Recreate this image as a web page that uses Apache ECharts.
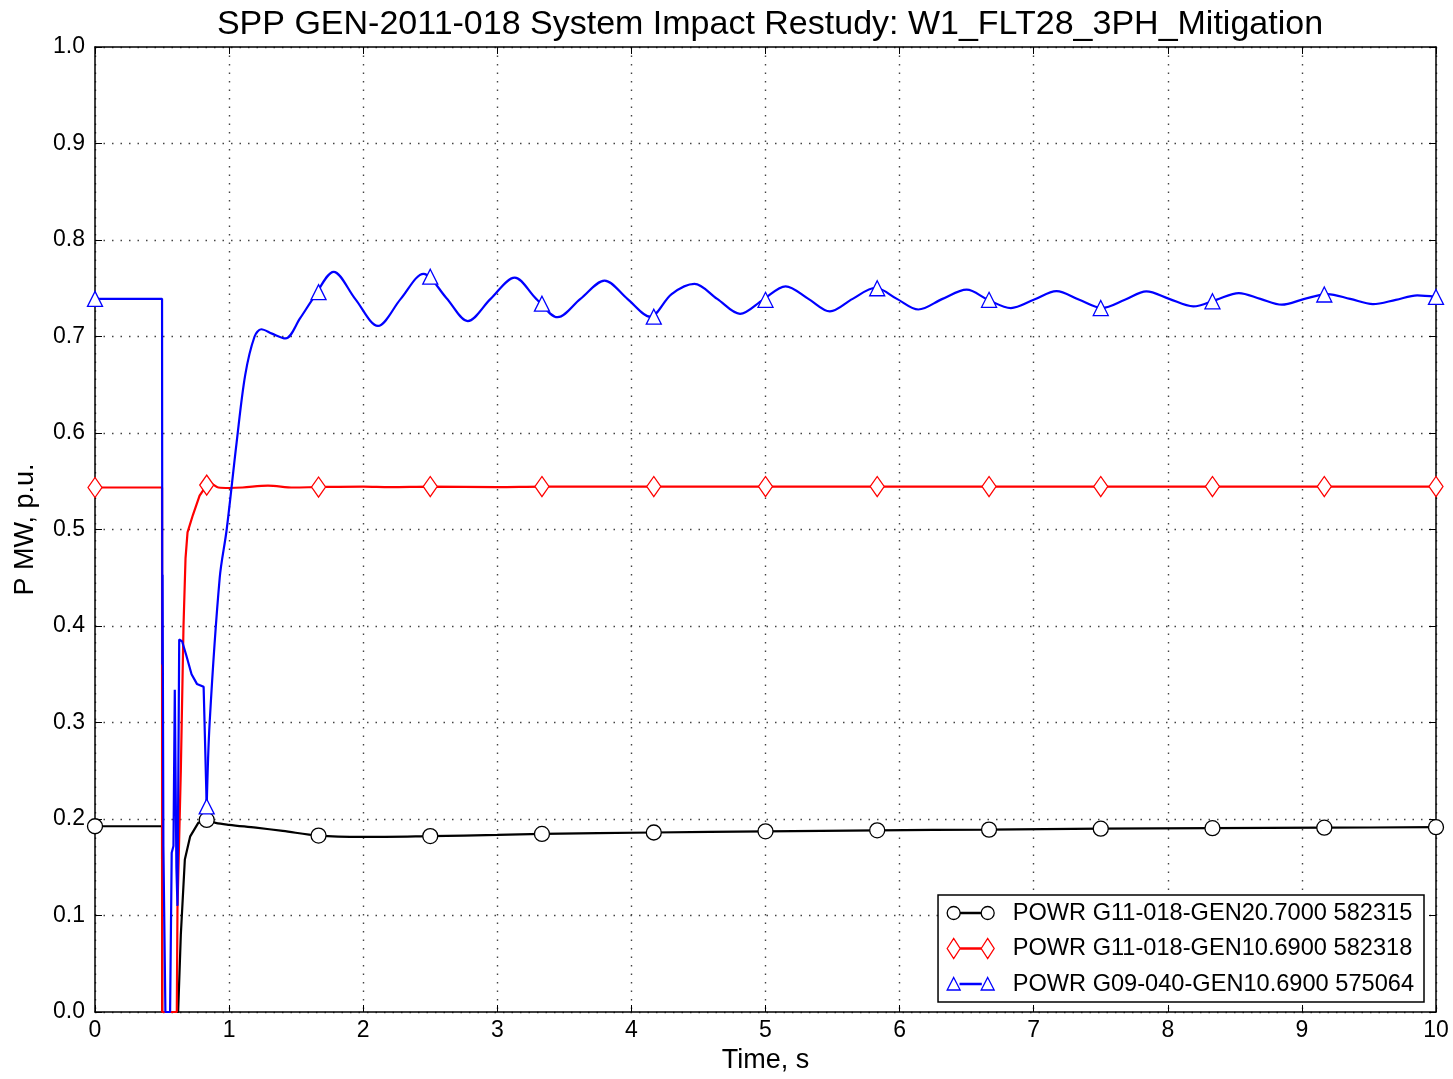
<!DOCTYPE html>
<html>
<head>
<meta charset="utf-8">
<script src="https://cdn.jsdelivr.net/npm/echarts@6/dist/echarts.min.js"></script>
<style>
html,body{margin:0;padding:0;background:#fff;}
#chart{width:1453px;height:1079px;}
</style>
</head>
<body>
<div id="chart"></div>
<script>
const titleText = 'SPP GEN-2011-018 System Impact Restudy: W1_FLT28_3PH_Mitigation';
const xName = 'Time, s';
const yName = 'P MW, p.u.';
const seriesNames = [
  'POWR G11-018-GEN20.7000 582315',
  'POWR G11-018-GEN10.6900 582318',
  'POWR G09-040-GEN10.6900 575064'
];
const xTicks = [0,1,2,3,4,5,6,7,8,9,10];
const yTicks = [0,0.1,0.2,0.3,0.4,0.5,0.6,0.7,0.8,0.9,1.0];

// Marker positions (time) and the values read at them
const markerTimes = [0, 0.833, 1.667, 2.5, 3.333, 4.167, 5, 5.833, 6.667, 7.5, 8.333, 9.167, 10];
const blackMarkerV = [0.1925, 0.199, 0.1828, 0.1823, 0.1845, 0.186, 0.1872, 0.1883, 0.189, 0.19, 0.1905, 0.191, 0.1915];
const redMarkerV   = [0.5435, 0.546, 0.544, 0.5445, 0.5445, 0.5445, 0.5445, 0.5445, 0.5445, 0.5445, 0.5445, 0.5445, 0.5445];
const blueMarkerV  = [0.739, 0.213, 0.746, 0.762, 0.734, 0.7205, 0.738, 0.7500, 0.738, 0.7295, 0.7365, 0.7435, 0.741];

// Black: G11-018-GEN2
const blackFaultT = [0, 0.5, 0.501, 0.62, 0.64, 0.67, 0.71, 0.77, 0.833];
const blackFaultV = [0.1925, 0.1925, 0.0, 0.0, 0.08, 0.158, 0.182, 0.196, 0.199];
const blackT = [0.833, 0.9, 1.0, 1.2, 1.4, 1.667, 2.0, 2.5, 3.0, 3.333, 4.167, 5, 5.833, 6.667, 7.5, 8.333, 9.167, 10];
const blackV = [0.199, 0.196, 0.194, 0.191, 0.1877, 0.1828, 0.1815, 0.1823, 0.1835, 0.1845, 0.186, 0.1872, 0.1883, 0.189, 0.19, 0.1905, 0.191, 0.1915];

// Red: G11-018-GEN1
const redFaultT = [0, 0.5, 0.501, 0.61, 0.615, 0.64, 0.66, 0.675, 0.69, 0.73, 0.78, 0.833];
const redFaultV = [0.5435, 0.5435, 0.0, 0.0, 0.107, 0.25, 0.40, 0.47, 0.497, 0.515, 0.535, 0.546];
const redT = [0.833, 0.87, 0.92, 1.0, 1.1, 1.29, 1.48, 1.667, 2.0, 2.2, 2.5, 3.0, 3.333, 4.167, 5, 5.833, 6.667, 7.5, 8.333, 9.167, 10];
const redV = [0.546, 0.547, 0.5435, 0.543, 0.5435, 0.5455, 0.5435, 0.544, 0.5445, 0.544, 0.5445, 0.544, 0.5445, 0.5445, 0.5445, 0.5445, 0.5445, 0.5445, 0.5445, 0.5445, 0.5445];

// Blue: G09-040-GEN1
const blueFaultT = [0, 0.5, 0.502, 0.504, 0.506, 0.51, 0.525, 0.56, 0.572, 0.585, 0.595, 0.607, 0.615, 0.628, 0.65, 0.68, 0.72, 0.76, 0.81, 0.833];
const blueFaultV = [0.739, 0.739, 0.36, 0.453, 0.36, 0.172, 0.0, 0.0, 0.165, 0.172, 0.334, 0.15, 0.11, 0.386, 0.384, 0.37, 0.35, 0.34, 0.337, 0.213];
const blueT = [0.833, 0.855, 0.93, 0.982, 1.056, 1.12, 1.19, 1.24, 1.32, 1.42, 1.53, 1.63, 1.78, 1.94, 2.11, 2.28, 2.45, 2.62, 2.78, 2.95, 3.13, 3.29, 3.45, 3.62, 3.80, 3.97, 4.14, 4.30, 4.47, 4.64, 4.81, 4.98, 5.15, 5.32, 5.48, 5.65, 5.82, 5.98, 6.14, 6.32, 6.50, 6.66, 6.83, 7.0, 7.17, 7.34, 7.51, 7.68, 7.84, 8.01, 8.19, 8.36, 8.53, 8.69, 8.85, 9.02, 9.19, 9.36, 9.53, 9.70, 9.86, 10];
const blueV = [0.213, 0.30, 0.45, 0.50, 0.59, 0.66, 0.70, 0.7075, 0.703, 0.698, 0.719, 0.740, 0.767, 0.739, 0.711, 0.739, 0.765, 0.740, 0.716, 0.739, 0.761, 0.739, 0.720, 0.739, 0.758, 0.739, 0.7205, 0.744, 0.7545, 0.739, 0.7235, 0.738, 0.752, 0.739, 0.726, 0.739, 0.7505, 0.739, 0.728, 0.739, 0.7485, 0.738, 0.7295, 0.738, 0.747, 0.738, 0.7295, 0.738, 0.7467, 0.739, 0.7312, 0.738, 0.745, 0.739, 0.733, 0.739, 0.744, 0.739, 0.7336, 0.738, 0.7426, 0.741];

const FONT = 'Liberation Sans';
const colors = ['#000000', '#ff0000', '#0000ff'];
const symbols = ['circle', 'diamond', 'triangle'];
const symbolSizes = [15, [14, 20], 15];

// legend icons: marker - line - marker (drawn in a 48 x 22 box)
const BOX = ' M0,0 M48,22';
const LINK = ' M13.5,10.3 L34.5,10.3 L34.5,11.7 L13.5,11.7 Z';
const legendIcons = [
  'path://M0.5,11 A6.5,6.5 0 1,0 13.5,11 A6.5,6.5 0 1,0 0.5,11 Z M34.5,11 A6.5,6.5 0 1,0 47.5,11 A6.5,6.5 0 1,0 34.5,11 Z' + LINK + BOX,
  'path://M0.5,11 L7,1 L13.5,11 L7,21 Z M34.5,11 L41,1 L47.5,11 L41,21 Z' + LINK + BOX,
  'path://M7,4.5 L13.5,17 L0.5,17 Z M41,4.5 L47.5,17 L34.5,17 Z' + LINK + BOX
];

function zip(T, V) { return T.map((t, i) => [t, V[i]]); }

function lineSeries(idx, name, T, V, smooth, z) {
  return {
    type: 'line',
    name: name,
    data: zip(T, V),
    smooth: smooth,
    showSymbol: false,
    symbol: symbols[idx],
    symbolSize: symbolSizes[idx],
    z: z,
    lineStyle: { color: colors[idx], width: 2.2 },
    itemStyle: { color: '#ffffff', borderColor: colors[idx], borderWidth: 1.3 },
    emphasis: { disabled: true },
    animation: false
  };
}

function markerSeries(idx, name, V, z) {
  return {
    type: 'scatter',
    name: name,
    data: zip(markerTimes, V),
    symbol: symbols[idx],
    symbolSize: symbolSizes[idx],
    z: z,
    itemStyle: { color: '#ffffff', borderColor: colors[idx], borderWidth: 1.3, opacity: 1 },
    emphasis: { disabled: true },
    animation: false
  };
}

const series = [
  lineSeries(0, seriesNames[0] + ' ', blackFaultT, blackFaultV, false, 2),
  lineSeries(0, seriesNames[0], blackT, blackV, 0.33, 2),
  markerSeries(0, seriesNames[0] + '  ', blackMarkerV, 3),
  lineSeries(1, seriesNames[1] + ' ', redFaultT, redFaultV, false, 4),
  lineSeries(1, seriesNames[1], redT, redV, 0.33, 4),
  markerSeries(1, seriesNames[1] + '  ', redMarkerV, 5),
  lineSeries(2, seriesNames[2] + ' ', blueFaultT, blueFaultV, false, 6),
  lineSeries(2, seriesNames[2], blueT, blueV, 0.33, 6),
  markerSeries(2, seriesNames[2] + '  ', blueMarkerV, 7)
];

const gridLine = { show: true, lineStyle: { color: '#444', width: 1.4, type: [1.5, 7] } };
const axisLineStyle = { show: true, onZero: false, lineStyle: { color: '#000', width: 1.5 } };
const tickStyle = { show: true, inside: true, length: 7, lineStyle: { color: '#000', width: 1 } };

const option = {
  animation: false,
  backgroundColor: '#fff',
  title: {
    text: titleText,
    left: 765,
    top: 3,
    textAlign: 'center',
    textStyle: { fontFamily: FONT, fontSize: 34, fontWeight: 'normal', color: '#000' }
  },
  grid: { left: 95, right: 17, top: 47, bottom: 66 },
  xAxis: [
    {
      type: 'value', min: 0, max: 10, interval: 1, position: 'bottom',
      name: xName, nameLocation: 'middle', nameGap: 35,
      nameTextStyle: { fontFamily: FONT, fontSize: 27, color: '#000' },
      axisLine: axisLineStyle, axisTick: tickStyle,
      axisLabel: { margin: 7, fontFamily: FONT, fontSize: 23, color: '#000',
        formatter: v => xTicks.includes(v) ? String(v) : '' },
      splitLine: gridLine
    },
    {
      type: 'value', min: 0, max: 10, interval: 1, position: 'top',
      axisLine: axisLineStyle, axisTick: tickStyle,
      axisLabel: { show: false }, splitLine: { show: false }
    }
  ],
  yAxis: [
    {
      type: 'value', min: 0, max: 1, interval: 0.1, position: 'left',
      name: yName, nameLocation: 'middle', nameGap: 56,
      nameTextStyle: { fontFamily: FONT, fontSize: 27, color: '#000' },
      axisLine: axisLineStyle, axisTick: tickStyle,
      axisLabel: { margin: 10, fontFamily: FONT, fontSize: 23, color: '#000',
        formatter: v => {
          const t = yTicks.find(y => Math.abs(y - v) < 1e-9);
          return t === undefined ? '' : t.toFixed(1);
        } },
      splitLine: gridLine
    },
    {
      type: 'value', min: 0, max: 1, interval: 0.1, position: 'right',
      axisLine: axisLineStyle, axisTick: tickStyle,
      axisLabel: { show: false }, splitLine: { show: false }
    }
  ],
  legend: {
    data: seriesNames.map((n, i) => ({
      name: n,
      icon: legendIcons[i],
      itemStyle: { color: '#ffffff', borderColor: colors[i], borderWidth: 1.3 }
    })),
    orient: 'vertical',
    right: 29,
    bottom: 77,
    backgroundColor: '#fff',
    borderColor: '#000',
    borderWidth: 1.5,
    borderRadius: 0,
    padding: [6, 10, 6, 8],
    itemWidth: 48,
    itemHeight: 22,
    itemGap: 11.5,
    symbolKeepAspect: true,
    selectedMode: false,
    textStyle: { fontFamily: FONT, fontSize: 23.6, color: '#000', padding: [0, 0, 0, 13], lineHeight: 24 }
  },
  series: series
};

const chart = echarts.init(document.getElementById('chart'), null, { renderer: 'canvas' });
chart.setOption(option);
</script>
</body>
</html>
